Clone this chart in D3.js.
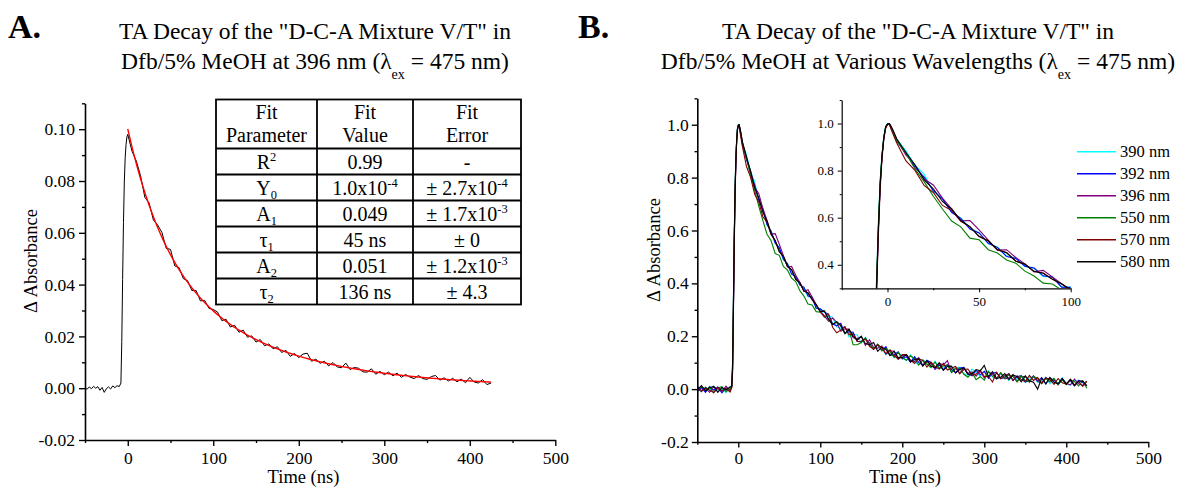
<!DOCTYPE html>
<html>
<head>
<meta charset="utf-8">
<script src="https://cdn.jsdelivr.net/npm/d3@7"></script>
<style>
  body { margin: 0; background: #fff; font-family: "Liberation Serif"; }
  svg text { font-family: "Liberation Serif"; }
</style>
</head>
<body>
<svg id="fig" width="1180" height="487" style="position:absolute;left:0;top:0"></svg>
<script>
// ---------------- Panel A: 396 nm transient with biexponential fit ----------------
const timeA = [-50, -47.5, -45, -42.5, -40, -37.5, -35, -32.5, -30, -27.5, -25, -22.5, -20, -17.5, -15, -12.5, -10,
  -8, -7, -6, -5, -4, -3, -2, -1, 0,
  5, 10, 15, 20, 25, 30, 35, 40, 45, 50, 55, 60, 65, 70, 75, 80, 85, 90, 95, 100,
  105, 110, 115, 120, 125, 130, 135, 140, 145, 150, 155, 160, 165, 170, 175, 180, 185, 190, 195, 200,
  205, 210, 215, 220, 225, 230, 235, 240, 245, 250, 255, 260, 265, 270, 275, 280, 285, 290, 295, 300,
  305, 310, 315, 320, 325, 330, 335, 340, 345, 350, 355, 360, 365, 370, 375, 380, 385, 390, 395, 400,
  405, 410, 415, 420, 425];

const absA = [0.0002, -0.0004, 0.0005, -0.0002, 0.0007, 0.0000, 0.0006, -0.0008, 0.0003, -0.0016, -0.0002, 0.0005, -0.0003, 0.0009, 0.0002, 0.0010, 0.0006,
  0.002, 0.018, 0.042, 0.064, 0.080, 0.089, 0.094, 0.097, 0.098,
  0.0915, 0.0877, 0.0820, 0.0737, 0.0715, 0.0649, 0.0630, 0.0601, 0.0540, 0.0536, 0.0472, 0.0466, 0.0423, 0.0415, 0.0377, 0.0377, 0.0337, 0.0339, 0.0308, 0.0304,
  0.0294, 0.0261, 0.0266, 0.0236, 0.0243, 0.0216, 0.0224, 0.0197, 0.0202, 0.0178, 0.0188, 0.0164, 0.0171, 0.0152, 0.0160, 0.0138, 0.0146, 0.0123, 0.0134, 0.0118,
  0.0132, 0.0135, 0.0104, 0.0112, 0.0096, 0.0104, 0.0086, 0.0099, 0.0082, 0.0079, 0.0097, 0.0072, 0.0080, 0.0077, 0.0063, 0.0062, 0.0075, 0.0054, 0.0065, 0.0052,
  0.0062, 0.0048, 0.0058, 0.0042, 0.0053, 0.0043, 0.0037, 0.0049, 0.0037, 0.0034, 0.0045, 0.0049, 0.0031, 0.0040, 0.0028, 0.0038, 0.0025, 0.0035, 0.0021, 0.0042,
  0.0024, 0.0020, 0.0033, 0.0014, 0.0020];

// Fit parameters: y = Y0 + A1·exp(-t/τ1) + A2·exp(-t/τ2)
const fitY0 = 1.0e-4;
const fitA = [0.049, 0.051];
const fitTau = [45, 136];
const fitRange = [0, 425];

// Table cells; [text, "sup"|"sub"] marks raised / lowered pieces
const tableHeader = [["Fit", "Parameter"], ["Fit", "Value"], ["Fit", "Error"]];
const tableRows = [
  [[["R"], ["2", "sup"]], [["0.99"]], [["-"]]],
  [[["Y"], ["0", "sub"]], [["1.0x10"], ["-4", "sup"]], [["\u00B1 2.7x10"], ["-4", "sup"]]],
  [[["A"], ["1", "sub"]], [["0.049"]], [["\u00B1 1.7x10"], ["-3", "sup"]]],
  [[["\u03C4"], ["1", "sub"]], [["45 ns"]], [["\u00B1 0"]]],
  [[["A"], ["2", "sub"]], [["0.051"]], [["\u00B1 1.2x10"], ["-3", "sup"]]],
  [[["\u03C4"], ["2", "sub"]], [["136 ns"]], [["\u00B1 4.3"]]]
];

const ticksA_yMajor = [-0.02, 0.00, 0.02, 0.04, 0.06, 0.08, 0.10];
const ticksA_yMinor = [-0.01, 0.01, 0.03, 0.05, 0.07, 0.09, 0.11];

// ---------------- Panel B: normalised transients at several wavelengths ----------------
const timeB = [-50, -45, -40, -35, -30, -25, -20, -15, -10,
  -8, -7, -6, -5, -4, -3, -2, -1, 0, 1, 2, 3,
  5, 10, 15, 20, 25, 30, 35, 40, 45, 50, 55, 60, 65, 70, 75, 80, 85, 90, 95, 100,
  105, 110, 115, 120, 125, 130, 135, 140, 145, 150, 155, 160, 165, 170, 175, 180, 185, 190, 195, 200,
  205, 210, 215, 220, 225, 230, 235, 240, 245, 250, 255, 260, 265, 270, 275, 280, 285, 290, 295, 300,
  305, 310, 315, 320, 325, 330, 335, 340, 345, 350, 355, 360, 365, 370, 375, 380, 385, 390, 395, 400,
  405, 410, 415, 420, 425];

const wavelengths = ["390 nm", "392 nm", "396 nm", "550 nm", "570 nm", "580 nm"];
const traceColors = ["#00FFFF", "#0000FF", "#800080", "#008000", "#800000", "#000000"];

const abs390 = [0.004, -0.011, 0.009, -0.006, 0.012, -0.008, 0.003, -0.013, 0.007,
  0.012, 0.09, 0.31, 0.56, 0.75, 0.87, 0.945, 0.988, 1.0, 0.996, 0.982, 0.968,
  0.934, 0.885, 0.823, 0.784, 0.711, 0.681, 0.622, 0.599, 0.555, 0.536, 0.489, 0.476, 0.438, 0.429, 0.393, 0.384, 0.349, 0.350, 0.307, 0.305,
  0.271, 0.276, 0.272, 0.236, 0.230, 0.237, 0.197, 0.207, 0.205, 0.174, 0.196, 0.166, 0.153, 0.169, 0.155, 0.130, 0.148, 0.119, 0.139, 0.125,
  0.108, 0.130, 0.103, 0.092, 0.110, 0.101, 0.081, 0.105, 0.078, 0.080, 0.092, 0.063, 0.081, 0.082, 0.059, 0.051, 0.076, 0.063, 0.049, 0.065,
  0.069, 0.046, 0.039, 0.059, 0.050, 0.032, 0.055, 0.037, 0.050, 0.025, 0.044, 0.048, 0.025, 0.030, 0.045, 0.020, 0.037, 0.020, 0.043, 0.021,
  0.014, 0.033, 0.028, 0.012, 0.031];

const abs392 = [-0.008, 0.006, -0.012, 0.010, -0.004, 0.008, -0.014, 0.005, -0.002,
  0.008, 0.07, 0.29, 0.54, 0.74, 0.86, 0.94, 0.985, 0.998, 1.0, 0.984, 0.966,
  0.925, 0.874, 0.814, 0.772, 0.715, 0.680, 0.623, 0.597, 0.552, 0.535, 0.491, 0.474, 0.435, 0.427, 0.394, 0.386, 0.353, 0.347, 0.305, 0.304,
  0.292, 0.283, 0.247, 0.239, 0.249, 0.211, 0.217, 0.215, 0.180, 0.179, 0.191, 0.174, 0.150, 0.167, 0.146, 0.161, 0.128, 0.130, 0.141, 0.114,
  0.123, 0.101, 0.123, 0.101, 0.090, 0.109, 0.101, 0.075, 0.092, 0.073, 0.093, 0.074, 0.062, 0.080, 0.082, 0.058, 0.050, 0.072, 0.054, 0.067,
  0.041, 0.060, 0.063, 0.040, 0.044, 0.058, 0.033, 0.047, 0.051, 0.027, 0.031, 0.050, 0.031, 0.043, 0.019, 0.042, 0.033, 0.019, 0.040, 0.019,
  0.032, 0.012, 0.034, 0.025, 0.013];

const abs396 = [0.010, -0.005, 0.003, -0.012, 0.008, 0.001, -0.009, 0.011, -0.006,
  0.010, 0.08, 0.30, 0.55, 0.74, 0.86, 0.94, 0.982, 0.996, 0.998, 0.985, 0.970,
  0.933, 0.867, 0.825, 0.764, 0.739, 0.683, 0.638, 0.587, 0.588, 0.548, 0.505, 0.462, 0.464, 0.431, 0.404, 0.370, 0.376, 0.348, 0.320, 0.293,
  0.277, 0.257, 0.269, 0.253, 0.219, 0.228, 0.226, 0.194, 0.191, 0.198, 0.165, 0.187, 0.157, 0.155, 0.163, 0.132, 0.145, 0.143, 0.113, 0.127,
  0.129, 0.105, 0.105, 0.119, 0.089, 0.104, 0.096, 0.077, 0.098, 0.091, 0.108, 0.063, 0.079, 0.060, 0.081, 0.060, 0.065, 0.049, 0.068, 0.042,
  0.065, 0.057, 0.038, 0.061, 0.039, 0.043, 0.055, 0.028, 0.047, 0.048, 0.026, 0.049, 0.030, 0.024, 0.044, 0.028, 0.038, 0.016, 0.039, 0.021,
  0.016, 0.038, 0.020, 0.014, 0.030];

const abs550 = [-0.006, 0.011, -0.003, 0.007, -0.014, 0.004, 0.009, -0.010, 0.003,
  0.015, 0.10, 0.33, 0.57, 0.76, 0.87, 0.945, 0.985, 0.998, 0.995, 0.978, 0.962,
  0.926, 0.876, 0.807, 0.753, 0.691, 0.637, 0.586, 0.561, 0.513, 0.506, 0.464, 0.450, 0.420, 0.407, 0.373, 0.352, 0.322, 0.318, 0.293, 0.291,
  0.297, 0.262, 0.245, 0.255, 0.238, 0.209, 0.225, 0.168, 0.168, 0.176, 0.194, 0.167, 0.154, 0.170, 0.144, 0.154, 0.141, 0.120, 0.139, 0.118,
  0.109, 0.126, 0.115, 0.091, 0.111, 0.094, 0.082, 0.103, 0.078, 0.088, 0.091, 0.064, 0.078, 0.080, 0.056, 0.045, 0.062, 0.036, 0.047, 0.034,
  0.067, 0.048, 0.040, 0.062, 0.040, 0.054, 0.047, 0.028, 0.051, 0.033, 0.029, 0.048, 0.040, 0.021, 0.040, 0.028, 0.041, 0.017, 0.034, 0.017,
  0.035, 0.028, 0.012, 0.031, 0.003];

const abs570 = [0.002, -0.009, 0.006, -0.004, -0.013, 0.007, -0.006, 0.003, -0.011,
  0.005, 0.06, 0.27, 0.52, 0.72, 0.85, 0.935, 0.98, 0.996, 0.998, 0.975, 0.955,
  0.918, 0.842, 0.801, 0.737, 0.707, 0.652, 0.631, 0.585, 0.561, 0.521, 0.501, 0.463, 0.452, 0.416, 0.403, 0.371, 0.365, 0.338, 0.318, 0.292,
  0.273, 0.284, 0.234, 0.213, 0.223, 0.236, 0.205, 0.210, 0.180, 0.181, 0.190, 0.162, 0.151, 0.169, 0.156, 0.134, 0.149, 0.127, 0.114, 0.131,
  0.131, 0.110, 0.097, 0.116, 0.108, 0.083, 0.102, 0.085, 0.076, 0.098, 0.072, 0.080, 0.086, 0.058, 0.074, 0.076, 0.052, 0.057, 0.072, 0.048,
  0.048, 0.027, 0.063, 0.039, 0.051, 0.058, 0.032, 0.050, 0.036, 0.028, 0.052, 0.033, 0.044, 0.021, 0.042, 0.037, 0.018, 0.040, 0.024, 0.019,
  0.038, 0.015, 0.029, 0.010, 0.029];

const abs580 = [-0.003, 0.013, -0.007, 0.005, 0.010, -0.012, 0.006, -0.004, 0.009,
  0.010, 0.08, 0.30, 0.55, 0.74, 0.86, 0.94, 0.984, 0.998, 1.0, 0.988, 0.972,
  0.935, 0.878, 0.824, 0.761, 0.723, 0.669, 0.637, 0.588, 0.562, 0.520, 0.502, 0.465, 0.451, 0.415, 0.402, 0.372, 0.364, 0.339, 0.319, 0.294,
  0.295, 0.265, 0.244, 0.255, 0.241, 0.211, 0.227, 0.200, 0.185, 0.200, 0.172, 0.168, 0.176, 0.143, 0.159, 0.150, 0.127, 0.144, 0.119, 0.119,
  0.131, 0.104, 0.113, 0.114, 0.087, 0.108, 0.087, 0.081, 0.100, 0.071, 0.086, 0.087, 0.061, 0.074, 0.080, 0.056, 0.058, 0.074, 0.069, 0.090,
  0.047, 0.066, 0.040, 0.045, 0.059, 0.036, 0.054, 0.047, 0.028, 0.050, 0.032, 0.026, 0.000, 0.042, 0.020, 0.044, 0.026, 0.020, 0.040, 0.020,
  0.036, 0.013, 0.030, 0.031, 0.012];

const tracesB = [abs390, abs392, abs396, abs550, abs570, abs580];

const ticksX_major = [0, 100, 200, 300, 400, 500];
const ticksX_minor = [-50, 50, 150, 250, 350, 450];
const ticksB_yMajor = [-0.2, 0.0, 0.2, 0.4, 0.6, 0.8, 1.0];
const ticksB_yMinor = [-0.1, 0.1, 0.3, 0.5, 0.7, 0.9, 1.1];
const ticksInset_xMajor = [0, 50, 100];
const ticksInset_xMinor = [-25, 25, 75];
const ticksInset_yMajor = [0.4, 0.6, 0.8, 1.0];
const ticksInset_yMinor = [0.3, 0.5, 0.7, 0.9, 1.1];

// ---------------- drawing ----------------
const FONT = "Liberation Serif";
const svg = d3.select("#fig").attr("font-family", FONT);
const txt = (sel) => sel.append("text").attr("font-family", FONT).attr("fill", "#000");

// Writes a sequence of text pieces into a <text>, raising or lowering the marked ones
function rich(textSel, pieces, size) {
  let off = 0;
  pieces.forEach(([str, kind]) => {
    let target = 0, fs = size;
    if (kind === "sup") { target = -0.40 * size; fs = 0.62 * size; }
    if (kind === "sub") { target = 0.22 * size; fs = 0.62 * size; }
    if (kind === "low") { target = 0.42 * size; fs = 0.6 * size; }
    textSel.append("tspan").attr("dy", target - off).attr("font-size", fs).text(str);
    off = target;
  });
}

function styleAxis(g, size, lw) {
  g.attr("font-family", FONT).attr("font-size", size);
  g.selectAll("text").attr("fill", "#000").attr("font-family", FONT);
  g.selectAll("path.domain").attr("stroke", "#000").attr("stroke-width", lw);
  g.selectAll(".tick line").attr("stroke", "#000").attr("stroke-width", lw * 0.85);
}

// Left + bottom axes with labelled major ticks and unlabelled minor ticks
function axesLB(g, x, y, o) {
  const x0 = x.range()[0], y0 = y.range()[0];
  const gy = g.append("g").attr("transform", `translate(${x0},0)`)
    .call(d3.axisLeft(y).tickValues(o.yMajor).tickSize(o.tick).tickSizeOuter(0)
      .tickPadding(o.yPad).tickFormat(o.yFmt));
  styleAxis(gy, o.font, o.lw);
  const gym = g.append("g").attr("transform", `translate(${x0},0)`)
    .call(d3.axisLeft(y).tickValues(o.yMinor).tickSize(o.tick / 2).tickSizeOuter(0).tickFormat(""));
  gym.select("path.domain").remove();
  styleAxis(gym, o.font, o.lw);

  const gx = g.append("g").attr("transform", `translate(0,${y0})`)
    .call(d3.axisBottom(x).tickValues(o.xMajor).tickSize(o.tick).tickSizeOuter(0)
      .tickPadding(o.xPad).tickFormat(d => String(d)));
  styleAxis(gx, o.font, o.lw);
  const gxm = g.append("g").attr("transform", `translate(0,${y0})`)
    .call(d3.axisBottom(x).tickValues(o.xMinor).tickSize(o.tick / 2).tickSizeOuter(0).tickFormat(""));
  gxm.select("path.domain").remove();
  styleAxis(gxm, o.font, o.lw);
}

// ----- titles -----
function panelTitle(letterX, centreX, lines, letter) {
  txt(svg).attr("x", letterX).attr("y", 38)
    .attr("font-size", 34).attr("font-weight", "bold").text(letter);
  txt(svg).attr("x", centreX).attr("y", 39).attr("text-anchor", "middle")
    .attr("font-size", 23.5).text(lines[0]);
  const t2 = txt(svg).attr("x", centreX).attr("y", 69).attr("text-anchor", "middle")
    .attr("font-size", 23.5);
  rich(t2, [[lines[1]], ["ex", "low"], [" = 475 nm)"]], 23.5);
}
panelTitle(8, 315, ['TA Decay of the "D-C-A Mixture V/T" in', "Dfb/5% MeOH at 396 nm (\u03BB"], "A.");
panelTitle(578, 918, ['TA Decay of the "D-C-A Mixture V/T" in', "Dfb/5% MeOH at Various Wavelengths (\u03BB"], "B.");

// ----- panel A -----
const xA = d3.scaleLinear().domain([-50, 500]).range([85, 555.3]);
const yA = d3.scaleLinear().domain([-0.02, 0.11]).range([440, 103.3]);
const gA = svg.append("g");

gA.append("path")
  .attr("d", d3.line().x((d, i) => xA(timeA[i])).y(d => yA(d))(absA))
  .attr("fill", "none").attr("stroke", "#000").attr("stroke-width", 1);

const fitT = d3.range(fitRange[0], fitRange[1] + 1, 1);
const fitY = t => fitY0 + fitA[0] * Math.exp(-t / fitTau[0]) + fitA[1] * Math.exp(-t / fitTau[1]);
gA.append("path")
  .attr("d", d3.line().x(t => xA(t)).y(t => yA(fitY(t)))(fitT))
  .attr("fill", "none").attr("stroke", "#FF0000").attr("stroke-width", 1.4);

axesLB(gA, xA, yA, {
  yMajor: ticksA_yMajor, yMinor: ticksA_yMinor, xMajor: ticksX_major, xMinor: ticksX_minor,
  yFmt: d => d.toFixed(2), tick: 6, yPad: 4, xPad: 5.5, font: 17.5, lw: 1.6
});

txt(gA).attr("transform", "translate(37,261) rotate(-90)")
  .attr("text-anchor", "middle").attr("font-size", 18.5).text("\u0394 Absorbance");
txt(gA).attr("x", 303.5).attr("y", 483).attr("text-anchor", "middle")
  .attr("font-size", 18.5).text("Time (ns)");

// fit table
const tblLeft = 216, tblTop = 99.5, headerH = 49, rowH = 26;
const colW = [101, 96, 108];
const colX = [tblLeft];
colW.forEach(w => colX.push(colX[colX.length - 1] + w));
const rowY = [tblTop, tblTop + headerH];
tableRows.forEach(() => rowY.push(rowY[rowY.length - 1] + rowH));
const tbl = gA.append("g");
tbl.append("rect").attr("x", colX[0]).attr("y", rowY[0])
  .attr("width", colX[3] - colX[0]).attr("height", rowY[rowY.length - 1] - rowY[0])
  .attr("fill", "#fff").attr("stroke", "#000").attr("stroke-width", 1.8);
tbl.selectAll("line.v").data(colX.slice(1, 3)).join("line")
  .attr("x1", d => d).attr("x2", d => d).attr("y1", rowY[0]).attr("y2", rowY[rowY.length - 1])
  .attr("stroke", "#000").attr("stroke-width", 1.8);
tbl.selectAll("line.h").data(rowY.slice(1, rowY.length - 1)).join("line")
  .attr("x1", colX[0]).attr("x2", colX[3]).attr("y1", d => d).attr("y2", d => d)
  .attr("stroke", "#000").attr("stroke-width", 1.8);
const cx = c => (colX[c] + colX[c + 1]) / 2;
tableHeader.forEach((lines, c) => {
  lines.forEach((s, k) => {
    txt(tbl).attr("x", cx(c)).attr("y", rowY[0] + 19 + k * 23.5)
      .attr("text-anchor", "middle").attr("font-size", 20).text(s);
  });
});
tableRows.forEach((row, r) => {
  row.forEach((pieces, c) => {
    const t = txt(tbl).attr("x", cx(c)).attr("y", rowY[r + 1] + rowH / 2 + 7)
      .attr("text-anchor", "middle").attr("font-size", 20);
    rich(t, pieces, 20);
  });
});

// ----- panel B -----
const xB = d3.scaleLinear().domain([-50, 500]).range([697.3, 1148.3]);
const yB = d3.scaleLinear().domain([-0.2, 1.1]).range([442, 98.3]);
const gB = svg.append("g");
const lineB = (xs, ys) => d3.line().x((d, i) => xs(timeB[i])).y(d => ys(d));

gB.selectAll("path.trace").data(tracesB).join("path")
  .attr("class", "trace")
  .attr("d", d => lineB(xB, yB)(d))
  .attr("fill", "none").attr("stroke", (d, i) => traceColors[i]).attr("stroke-width", 1.1);

axesLB(gB, xB, yB, {
  yMajor: ticksB_yMajor, yMinor: ticksB_yMinor, xMajor: ticksX_major, xMinor: ticksX_minor,
  yFmt: d => d.toFixed(1), tick: 5.5, yPad: 3, xPad: 4, font: 17.5, lw: 1.6
});
txt(gB).attr("transform", "translate(660,250) rotate(-90)")
  .attr("text-anchor", "middle").attr("font-size", 18.5).text("\u0394 Absorbance");
txt(gB).attr("x", 905).attr("y", 483).attr("text-anchor", "middle")
  .attr("font-size", 18.5).text("Time (ns)");

// inset: early-time zoom of the same traces
const xI = d3.scaleLinear().domain([-25, 100]).range([841.7, 1070.7]);
const yI = d3.scaleLinear().domain([0.3, 1.1]).range([288.3, 100]);
const gI = gB.append("g");
gI.append("clipPath").attr("id", "insetClip").append("rect")
  .attr("x", xI.range()[0]).attr("y", yI.range()[1])
  .attr("width", xI.range()[1] - xI.range()[0]).attr("height", yI.range()[0] - yI.range()[1]);
gI.append("g").attr("clip-path", "url(#insetClip)")
  .selectAll("path").data(tracesB).join("path")
  .attr("d", d => lineB(xI, yI)(d))
  .attr("fill", "none").attr("stroke", (d, i) => traceColors[i]).attr("stroke-width", 1.1);
axesLB(gI, xI, yI, {
  yMajor: ticksInset_yMajor, yMinor: ticksInset_yMinor, xMajor: ticksInset_xMajor, xMinor: ticksInset_xMinor,
  yFmt: d => d.toFixed(1), tick: 4, yPad: 4, xPad: 4.5, font: 13, lw: 1.2
});

// legend
const leg = gB.append("g");
const legRow = leg.selectAll("g").data(wavelengths).join("g")
  .attr("transform", (d, i) => `translate(0,${151.7 + i * 22})`);
legRow.append("line").attr("x1", 1077).attr("x2", 1116).attr("y1", 0).attr("y2", 0)
  .attr("stroke", (d, i) => traceColors[i]).attr("stroke-width", 1.5);
legRow.append("text").attr("font-family", FONT).attr("fill", "#000")
  .attr("x", 1120).attr("y", 0).attr("dy", "0.34em")
  .attr("font-size", 16.5).text(d => d);
</script>
</body>
</html>
